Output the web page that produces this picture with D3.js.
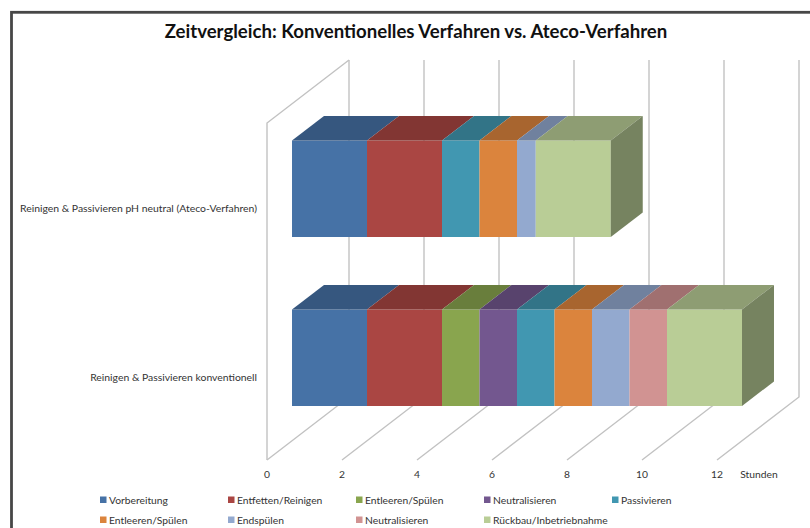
<!DOCTYPE html>
<html>
<head>
<meta charset="utf-8">
<script src="https://cdn.jsdelivr.net/npm/d3@7"></script>
<style>
  html, body { margin: 0; padding: 0; background: #fff; }
  svg { display: block; font-family: "Lato", "Open Sans", sans-serif; }
</style>
</head>
<body>
<svg width="810" height="528"></svg>
<script>
const title = "Zeitvergleich: Konventionelles Verfahren vs. Ateco-Verfahren";
const categories = ["Reinigen & Passivieren pH neutral (Ateco-Verfahren)", "Reinigen & Passivieren konventionell"];
const seriesNames = ["Vorbereitung", "Entfetten/Reinigen", "Entleeren/Spülen", "Neutralisieren", "Passivieren",
  "Entleeren/Spülen", "Endspülen", "Neutralisieren", "Rückbau/Inbetriebnahme"];
const atecoValues = [2, 2, 0, 0, 1, 1, 0.5, 0, 2];
const konvValues = [2, 2, 1, 1, 1, 1, 1, 1, 2];
const colors = ["#4672a6", "#aa4643", "#89a54e", "#73578f", "#4197b1", "#db843d", "#93a9cf", "#d19392", "#b9cd96"];
const ticks = [0, 2, 4, 6, 8, 10, 12];

const svg = d3.select("svg");

// Rahmen
svg.append("rect").attr("x", 11.5).attr("y", 12.3).attr("width", 830).attr("height", 560)
  .attr("fill", "#fff").attr("stroke", "#474747").attr("stroke-width", 2.8);

svg.append("text").attr("x", 416).attr("y", 38).attr("text-anchor", "middle")
  .attr("font-size", 18.6).attr("font-weight", "bold").attr("fill", "#111").text(title);

const scaleX = d3.scaleLinear().domain([0, 12]).range([267, 717]);
const scaleY = d3.scaleBand().domain(categories).range([140.5, 406]).paddingInner(0.429);

// 3D Schraege: depth 0 = vorne, 1 = hinten
const depthX = 82, depthY = 63;
const floorY = 460, topY = 60;
const barFront = 0.305, barDepth = 0.39;

const grid = svg.append("g").attr("fill", "none").attr("stroke", "#c2c2c2").attr("stroke-width", 1.4);

ticks.forEach(function(t) {
  let x = scaleX(t);
  grid.append("path").attr("d", d3.line()([[x, floorY], [x + depthX, floorY - depthY], [x + depthX, topY]]));
});
grid.append("path").attr("d", d3.line()([[scaleX(0), floorY], [scaleX(0), topY + depthY], [scaleX(0) + depthX, topY]]));

// Balken
function drawBar(cat, values) {
  let g = svg.append("g");
  let cum = 0;
  let front = scaleY(cat);
  let h = scaleY.bandwidth();
  let dx = depthX * barDepth, dy = depthY * barDepth;
  let off = depthX * barFront;

  values.forEach(function(v, i) {
    if (v === 0) return;
    let x0 = scaleX(cum) + off;
    let x1 = scaleX(cum + v) + off;
    cum += v;
    g.append("rect").attr("x", x0).attr("y", front).attr("width", x1 - x0).attr("height", h)
      .attr("fill", colors[i]);
    g.append("path")
      .attr("d", d3.line()([[x0, front], [x0 + dx, front - dy], [x1 + dx, front - dy], [x1, front]]) + "Z")
      .attr("fill", d3.color(colors[i]).darker(0.75));
  });
  let xe = scaleX(cum) + off;
  let last = colors[values.length - 1];
  g.append("path")
    .attr("d", d3.line()([[xe, front], [xe + dx, front - dy], [xe + dx, front + h - dy], [xe, front + h]]) + "Z")
    .attr("fill", d3.color(last).darker(1.25));
}
drawBar(categories[0], atecoValues);
drawBar(categories[1], konvValues);

// Kategorien, Beschriftung sitzt tiefer als die Balkenmitte
svg.append("g").selectAll("text").data(categories).enter().append("text")
  .attr("x", 257).attr("y", d => scaleY(d) + scaleY.bandwidth() / 2 + 23)
  .attr("text-anchor", "end").attr("font-size", 10.4).attr("fill", "#333").text(d => d);

// Achse
svg.append("g").selectAll("text").data(ticks).enter().append("text")
  .attr("x", d => scaleX(d)).attr("y", 478).attr("text-anchor", "middle")
  .attr("font-size", 10.3).attr("fill", "#333").text(d => d);
svg.append("text").attr("x", 759).attr("y", 478).attr("text-anchor", "middle")
  .attr("font-size", 10.3).attr("fill", "#333").text("Stunden");

// Legende
const legendX = d3.scaleLinear().domain([0, 1]).range([100, 228]);
const legendY = d3.scaleLinear().domain([0, 1]).range([500, 520]);
const legend = svg.append("g").selectAll("g").data(seriesNames).enter().append("g")
  .attr("transform", (d, i) => "translate(" + legendX(i % 5) + "," + legendY(Math.floor(i / 5)) + ")");
legend.append("rect").attr("x", 0).attr("y", -3.5).attr("width", 6.5).attr("height", 6.5)
  .attr("fill", (d, i) => colors[i]);
legend.append("text").attr("x", 9).attr("y", 3.5).attr("font-size", 10.3).attr("fill", "#333").text(d => d);
</script>
</body>
</html>
